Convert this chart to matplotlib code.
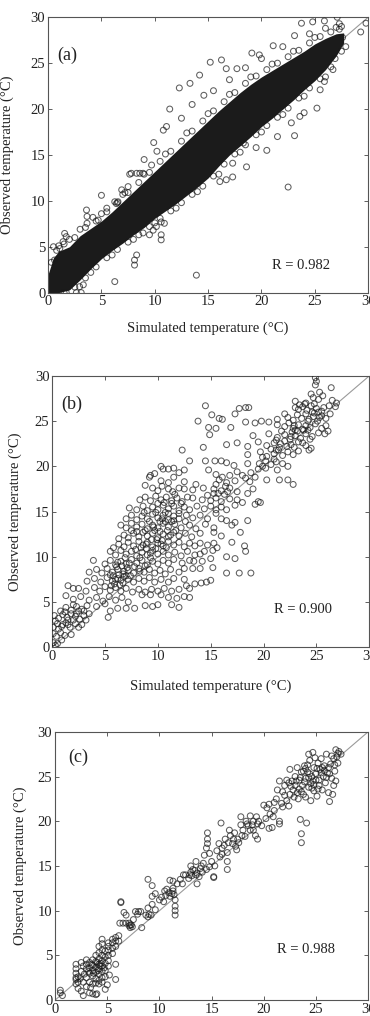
import matplotlib
matplotlib.use("Agg")
import matplotlib.pyplot as plt
import numpy as np

plt.rcParams['font.family'] = ['Liberation Serif', 'DejaVu Serif']
plt.rcParams['font.size'] = 10

TEXT = "#222222"
EDGE = (0.1, 0.1, 0.1, 0.7)

# ---------------- panel (a): dense band envelope + scattered points ----------------
a_core_x = [0, 0.5, 1, 2, 3, 4, 5, 6, 7, 8, 9, 10, 11, 12, 13, 14, 15, 16, 17, 18, 19,
            20, 21, 22, 23, 24, 25, 26, 27, 27.7]
a_core_lo = [0, 0, 0, 0.3, 1.4, 2.6, 3.7, 4.6, 5.4, 6.3, 7.1, 8.1, 8.9, 9.7, 10.6, 11.5,
             12.5, 13.8, 15.0, 16.0, 17.0, 18.1, 19.0, 20.0, 21.0, 22.1, 23.1, 24.3, 25.8, 27.2]
a_core_hi = [2.0, 3.8, 4.5, 5.0, 6.2, 7.0, 7.8, 8.8, 9.9, 11.0, 12.1, 13.2, 14.3, 15.4,
             16.5, 17.6, 18.7, 19.8, 20.8, 21.8, 22.7, 23.5, 24.2, 24.9, 25.6, 26.3, 27.1,
             27.7, 28.2, 28.3]
a_pts = [
    (23.75, 29.35), (24.8, 29.5), (25.9, 29.6), (27.1, 30.0), (27.3, 29.3), (29.3, 28.4),
    (29.8, 29.35), (23.1, 28.0), (21.1, 26.9), (19.1, 26.1), (19.8, 25.9), (16.25, 25.35),
    (15.2, 25.1), (16.7, 24.4), (17.7, 24.4), (14.2, 23.7), (13.3, 22.8), (12.3, 22.3),
    (11.4, 20.0), (11.1, 18.1), (10.8, 17.7), (10.2, 15.4), (9.9, 16.35), (9.7, 13.9),
    (8.6, 13.0), (7.8, 13.0), (6.4, 9.7), (5.0, 10.6), (4.7, 7.9), (3.6, 9.0), (3.65, 8.3),
    (3.65, 7.55), (1.55, 6.45), (1.7, 6.1), (1.4, 5.55), (0.5, 5.0), (0.6, 3.55), (1.1, 4.8),
    (22.5, 11.5), (23.1, 17.1), (20.5, 15.5), (23.6, 19.2), (25.2, 20.1), (25.9, 23.0),
    (26.7, 24.3), (26.9, 25.5), (25.5, 22.1), (18.3, 16.3), (18.6, 13.7), (17.3, 14.1),
    (17.3, 12.6), (16.7, 12.3), (16.1, 12.1), (13.9, 1.9), (6.25, 1.2), (8.1, 3.55),
    (8.3, 4.1), (8.1, 3.0), (10.6, 7.7), (10.9, 7.55), (10.6, 5.75), (10.6, 6.3), (8.9, 6.5),
    (9.5, 6.3), (9.85, 6.8), (10.15, 7.2), (2.65, 0.0), (3.1, 0.0), (2.95, 0.65), (3.3, 0.85),
    (1.7, 0.0), (7.5, 11.55), (6.9, 11.2), (7.65, 12.9), (8.3, 13.0), (8.9, 13.0),
    (6.25, 9.9), (6.55, 9.9), (14.6, 21.5), (15.5, 22.0), (17.0, 23.2), (18.5, 24.5),
    (20.0, 25.5), (22.0, 26.8), (24.5, 28.2), (26.0, 28.8), (27.5, 29.0), (21.5, 17.0),
    (22.8, 18.5), (24.0, 19.6), (19.5, 15.8), (12.5, 19.0), (13.5, 20.5), (9.0, 14.5),
    (27.9, 26.8), (27.6, 27.8), (2.0, 5.8), (4.2, 8.2), (5.5, 9.2), (7.2, 10.9)
]
# circles sitting on the fuzzy rim of the dense band
a_rim = [
    (0.3, 3.3), (0.8, 4.6), (1.5, 5.3), (2.5, 6.0), (3.5, 7.1), (4.5, 7.8), (5.5, 8.8),
    (6.5, 9.8), (7.5, 10.9), (8.5, 12.0), (9.5, 13.1), (10.5, 14.3), (11.5, 15.4), (12.5, 16.5),
    (13.5, 17.6), (14.5, 18.7), (15.5, 19.8), (16.5, 20.8), (17.5, 21.8), (18.5, 22.8),
    (19.5, 23.6), (20.5, 24.3), (21.5, 25.0), (22.5, 25.7), (23.5, 26.4), (24.5, 27.2),
    (25.5, 27.9), (26.5, 28.4), (27.3, 28.7),
    (1.0, 5.1), (3.0, 6.9), (5.0, 8.6), (7.0, 10.7), (9.0, 12.9), (11.0, 15.1), (13.0, 17.4),
    (15.0, 19.5), (17.0, 21.6), (19.0, 23.5), (21.0, 24.9), (23.0, 26.3), (25.0, 27.8), (27.0, 28.9),
    (1.5, 0.0), (2.5, 0.6), (3.5, 1.6), (4.5, 2.8), (5.5, 3.8), (6.5, 4.7), (7.5, 5.5), (8.5, 6.3),
    (9.5, 7.2), (10.5, 8.1), (11.5, 8.9), (12.5, 9.8), (13.5, 10.7), (14.5, 11.6), (15.5, 12.7),
    (16.5, 14.0), (17.5, 15.1), (18.5, 16.1), (19.5, 17.2), (20.5, 18.2), (21.5, 19.1),
    (22.5, 20.1), (23.5, 21.2), (24.5, 22.3), (25.5, 23.3), (26.5, 24.6), (27.5, 26.3),
    (4.0, 2.2), (6.0, 4.1), (8.0, 5.8), (10.0, 7.6), (12.0, 9.2), (14.0, 11.0), (16.0, 12.9),
    (18.0, 15.3), (20.0, 17.5), (22.0, 19.4), (24.0, 21.4), (26.0, 23.5)
]

# ---------------- panel (b) ----------------
b_pts = [
    (24.9, 29.8), (25.0, 29.4), (24.9, 29.0), (26.4, 28.7), (25.3, 28.2), (24.5, 28.0),
    (23.0, 27.2), (24.7, 27.6), (25.2, 27.4), (25.6, 27.8), (26.5, 27.3), (26.9, 27.0), (24.0, 27.0), (23.4, 26.8),
    (14.5, 26.7), (17.7, 26.4), (18.3, 26.5), (18.6, 26.5), (23.0, 26.5), (23.3, 26.3), (23.7, 26.6),
    (24.1, 26.2), (24.5, 26.7), (25.0, 26.4), (25.5, 26.1), (26.2, 26.7), (26.8, 26.6), (24.8, 26.9),
    (13.8, 25.0), (15.1, 25.7), (17.3, 25.8), (15.8, 25.3), (16.1, 25.2), (22.3, 25.4), (22.8, 25.1),
    (23.2, 25.7), (23.6, 25.3), (24.0, 25.8), (24.3, 25.2), (24.7, 25.5), (25.1, 25.0), (25.5, 25.6),
    (25.9, 25.3), (26.3, 25.8), (22.0, 25.8), (21.3, 25.2),
    (14.8, 24.3), (15.5, 24.2), (16.9, 24.3), (18.3, 24.9), (19.2, 24.8), (19.8, 25.0), (20.5, 24.9),
    (21.3, 24.6), (22.0, 24.4), (22.4, 24.8), (22.8, 24.2), (23.3, 24.6), (23.7, 24.1), (24.0, 24.5),
    (24.4, 24.3), (24.9, 24.7), (25.5, 24.2), (25.9, 24.5), (26.1, 23.9),
    (14.9, 23.5), (19.0, 23.4), (20.5, 23.6), (21.3, 23.2), (22.0, 23.5), (22.5, 23.0), (23.0, 23.4),
    (23.5, 23.1), (24.0, 23.6), (24.6, 23.3), (25.2, 23.7), (25.8, 23.6), (22.7, 23.8), (21.7, 23.9),
    (16.5, 22.4), (17.5, 22.6), (18.5, 22.2), (19.5, 22.7), (20.3, 22.3), (21.0, 22.6), (21.5, 22.1),
    (22.0, 22.8), (22.6, 22.4), (23.3, 22.7), (24.0, 22.3), (24.5, 22.0), (21.2, 22.9), (22.9, 22.1),
    (12.3, 21.8), (14.3, 22.1), (18.5, 21.3), (19.7, 21.6), (20.3, 21.1), (21.0, 21.4), (21.4, 21.8),
    (21.8, 21.2), (22.3, 21.6), (22.8, 21.3), (23.3, 21.7), (24.3, 21.8), (20.7, 21.9), (19.9, 21.0),
    (10.3, 20.0), (13.0, 20.6), (14.5, 20.6), (15.4, 20.6), (16.0, 20.6), (16.5, 20.4), (17.2, 20.1),
    (18.5, 20.3), (19.6, 20.3), (20.2, 20.6), (20.7, 20.2), (21.2, 20.5), (21.8, 20.3), (22.3, 20.0),
    (21.0, 20.8), (19.9, 20.0),
    (9.3, 19.0), (9.7, 19.2), (10.5, 19.7), (11.0, 19.7), (11.5, 19.8), (12.0, 19.3), (12.5, 19.6),
    (14.8, 19.6), (16.8, 19.0), (18.0, 19.0), (18.8, 19.3), (19.5, 19.7), (20.2, 19.8), (21.3, 19.6),
    (17.5, 19.4), (15.5, 19.1),
    (9.2, 18.8), (10.3, 18.4), (11.0, 18.2), (11.5, 18.8), (12.5, 18.3), (13.6, 18.0), (15.8, 18.5),
    (16.5, 18.2), (17.3, 18.4), (18.3, 18.7), (18.7, 18.3), (19.2, 18.8), (20.3, 18.5), (21.5, 18.5),
    (22.3, 18.5), (22.8, 18.0), (15.5, 18.0), (16.1, 18.8),
    (8.8, 17.9), (9.5, 17.6), (10.0, 17.3), (10.4, 17.8), (11.0, 17.5), (11.4, 17.2), (12.0, 17.6),
    (12.5, 17.5), (13.3, 17.4), (14.3, 17.6), (15.3, 17.5), (16.0, 17.3), (16.8, 17.6), (17.5, 17.2),
    (18.5, 17.0), (19.0, 17.5), (15.7, 17.0), (16.4, 17.8),
    (8.3, 16.3), (8.8, 16.6), (9.3, 16.2), (9.8, 16.7), (10.3, 16.3), (10.8, 16.6), (11.3, 16.2),
    (11.8, 16.5), (12.3, 16.1), (12.8, 16.6), (13.3, 16.5), (14.2, 16.3), (15.5, 16.5), (16.0, 16.1),
    (16.8, 16.4), (17.5, 16.3), (18.0, 16.0), (14.7, 16.8),
    (7.3, 15.4), (8.0, 15.2), (8.6, 15.6), (9.0, 15.1), (9.5, 15.5), (10.0, 15.2), (10.5, 15.7),
    (11.0, 15.3), (11.5, 15.6), (12.0, 15.1), (12.5, 15.5), (13.0, 15.2), (13.7, 15.6), (14.4, 15.3),
    (15.0, 15.6), (15.5, 15.2), (16.0, 15.5), (16.5, 15.2), (17.3, 15.7), (19.2, 15.8), (19.5, 16.1),
    (19.7, 16.0),
    (7.0, 14.2), (7.5, 14.6), (8.0, 14.1), (8.5, 14.5), (9.0, 14.2), (9.5, 14.7), (10.0, 14.3),
    (10.5, 14.6), (11.0, 14.1), (11.5, 14.5), (12.0, 14.2), (12.7, 14.6), (13.3, 14.3), (14.0, 14.6),
    (14.7, 14.2), (15.5, 14.8), (16.0, 14.2), (16.5, 14.0), (18.5, 14.0),
    (6.5, 13.5), (7.0, 13.2), (7.5, 13.7), (8.0, 13.3), (8.5, 13.6), (9.0, 13.1), (9.5, 13.5),
    (10.0, 13.2), (10.5, 13.7), (11.0, 13.3), (11.6, 13.6), (12.2, 13.2), (13.0, 13.5), (13.6, 13.1),
    (14.5, 13.6), (15.3, 13.2), (17.0, 13.5), (17.3, 13.8),
    (6.3, 12.0), (6.8, 12.4), (7.2, 12.1), (7.7, 12.6), (8.2, 12.2), (8.6, 12.7), (9.0, 12.3),
    (9.5, 12.6), (10.0, 12.1), (10.5, 12.5), (11.0, 12.2), (11.5, 12.7), (12.0, 12.3), (12.6, 12.6),
    (13.2, 12.2), (14.0, 12.6), (15.3, 12.7), (16.0, 12.3), (17.8, 12.7),
    (5.8, 11.0), (6.3, 11.4), (6.8, 11.1), (7.2, 11.6), (7.7, 11.2), (8.2, 11.7), (8.6, 11.3),
    (9.0, 11.6), (9.5, 11.1), (10.0, 11.5), (10.5, 11.2), (11.0, 11.7), (11.5, 11.3), (12.0, 11.6),
    (12.5, 11.1), (13.0, 11.5), (13.5, 11.2), (14.0, 11.5), (14.7, 11.3), (15.3, 11.5), (17.0, 11.6),
    (18.2, 11.2),
    (5.5, 10.6), (6.0, 10.2), (6.5, 10.7), (7.0, 10.3), (7.5, 10.6), (8.0, 10.1), (8.5, 10.5),
    (9.0, 10.2), (9.5, 10.7), (10.0, 10.3), (10.5, 10.6), (11.0, 10.2), (11.6, 10.5), (12.2, 10.1),
    (12.8, 10.6), (13.5, 10.2), (14.0, 10.3), (14.4, 10.6), (15.2, 10.7), (15.6, 11.0), (16.5, 10.0),
    (18.3, 10.6),
    (3.9, 9.6), (5.0, 9.2), (5.5, 9.6), (6.0, 9.1), (6.5, 9.5), (7.0, 9.2), (7.5, 9.7), (8.0, 9.3),
    (8.5, 9.6), (9.0, 9.1), (9.5, 9.5), (10.0, 9.2), (10.5, 9.6), (11.0, 9.3), (11.5, 9.7),
    (12.3, 9.3), (13.0, 9.6), (13.4, 9.5), (14.2, 9.5), (15.0, 9.8), (17.3, 9.8),
    (3.5, 8.3), (4.2, 8.6), (4.7, 8.2), (5.2, 8.7), (5.7, 8.3), (6.2, 8.6), (6.7, 8.1), (7.2, 8.5),
    (7.7, 8.2), (8.2, 8.7), (8.7, 8.3), (9.2, 8.6), (9.7, 8.2), (10.2, 8.5), (10.7, 8.1), (11.2, 8.6),
    (12.0, 8.3), (12.5, 8.7), (13.3, 8.7), (14.0, 8.7), (15.2, 8.8), (16.5, 8.2), (17.7, 8.2),
    (18.8, 8.2),
    (3.3, 7.3), (4.0, 7.6), (4.6, 7.2), (5.2, 7.7), (5.7, 7.3), (6.2, 7.6), (6.7, 7.1), (7.2, 7.5),
    (7.7, 7.2), (8.2, 7.6), (8.7, 7.3), (9.2, 7.7), (9.7, 7.2), (10.3, 7.5), (11.0, 7.2), (11.5, 7.6),
    (12.5, 7.5), (13.5, 7.0), (14.1, 7.1), (14.6, 7.2), (15.0, 7.4),
    (1.5, 6.8), (2.0, 6.5), (2.5, 6.5), (3.2, 6.2), (4.0, 6.6), (4.5, 6.2), (5.0, 6.7), (5.5, 6.3),
    (6.0, 6.6), (6.5, 6.2), (7.0, 6.5), (7.6, 6.1), (8.2, 6.4), (8.8, 6.1), (9.4, 6.4), (10.0, 6.2),
    (10.6, 6.5), (11.3, 6.2), (12.0, 6.4), (12.7, 6.8), (13.0, 6.5),
    (1.3, 5.7), (2.0, 5.3), (2.7, 5.6), (3.5, 5.2), (4.2, 5.5), (4.8, 5.1), (5.4, 5.6), (6.0, 5.2),
    (6.6, 5.5), (7.2, 5.0), (8.5, 5.8), (9.3, 5.8), (10.3, 5.8), (11.0, 5.5), (11.8, 5.4),
    (12.5, 5.6), (13.0, 5.5),
    (0.8, 4.0), (1.3, 4.4), (1.8, 4.1), (2.3, 4.5), (2.8, 4.2), (3.3, 4.6), (4.2, 4.5), (5.0, 4.8),
    (5.5, 4.0), (6.2, 4.3), (7.0, 4.3), (7.8, 4.3), (8.8, 4.6), (9.5, 4.5), (10.0, 4.7), (11.3, 4.7),
    (12.0, 4.4), (5.3, 3.3),
    (0.2, 3.5), (0.6, 3.2), (1.0, 3.6), (1.4, 3.3), (1.8, 3.7), (2.2, 3.4), (2.6, 3.1), (3.0, 3.5),
    (3.5, 3.7),
    (0.1, 2.2), (0.5, 2.6), (0.9, 2.3), (1.3, 2.7), (1.7, 2.2), (2.2, 2.6), (2.8, 2.5), (0.3, 2.9),
    (0.1, 1.5), (0.4, 1.2), (0.8, 1.6), (1.2, 1.3), (1.8, 1.4), (0.9, 0.8),
    (0.1, 0.5), (0.3, 0.2), (0.5, 0.4),
    # extra points in the darkest parts of the cloud
    (5.8, 7.9), (6.3, 8.0), (6.8, 7.8), (6.1, 8.9), (6.6, 9.0), (7.1, 8.8), (5.9, 7.0), (6.4, 6.9),
    (7.4, 7.9), (6.9, 9.9), (7.9, 10.8), (8.4, 11.0), (8.9, 10.9), (9.4, 11.9), (9.9, 11.9),
    (10.4, 11.8), (10.9, 12.9), (9.7, 12.9), (10.2, 13.9), (10.7, 13.9), (9.2, 13.9), (9.8, 14.9),
    (10.7, 14.9), (11.3, 15.9), (8.8, 12.9), (11.7, 12.9), (9.3, 9.9), (8.3, 9.9), (24.2, 25.0),
    (24.6, 26.0), (23.8, 24.0), (25.2, 26.0), (24.4, 23.0), (23.0, 24.0), (2.0, 3.0), (2.5, 4.0),
    (1.0, 2.5), (1.5, 3.0), (3.0, 4.0), (2.5, 2.2),
    (5.5, 8.0), (6.0, 7.5), (6.5, 7.4), (7.0, 7.9), (5.6, 6.8), (6.2, 9.4), (6.8, 8.4), (7.3, 9.3),
    (7.8, 8.9), (8.3, 8.4), (8.8, 9.0), (9.3, 10.4), (9.8, 10.9), (10.3, 11.4), (10.8, 11.0),
    (11.2, 12.4), (10.2, 12.8), (9.6, 13.3), (10.4, 14.2), (11.0, 14.8), (11.5, 14.0), (12.0, 14.8),
    (10.0, 15.9), (10.6, 16.0), (11.6, 16.9), (12.2, 15.9), (12.6, 13.9), (11.3, 13.9), (8.9, 11.4),
    (8.0, 12.8), (7.5, 12.9), (8.7, 14.9), (15.0, 16.2), (15.3, 17.0), (16.3, 16.9), (16.6, 17.2),
    (21.2, 21.8), (21.6, 22.5), (22.2, 22.2), (22.6, 23.3), (23.2, 23.9), (23.7, 22.6), (24.2, 24.0),
    (24.8, 25.9), (25.3, 25.4), (25.7, 26.5), (23.9, 26.9), (22.9, 24.5), (0.6, 2.0), (1.5, 2.5),
    (2.3, 3.7), (2.0, 4.7), (3.2, 3.0), (1.2, 3.9)
]

# ---------------- panel (c) ----------------
c_pts = [
    (0.5, 0.8), (0.5, 1.1), (0.7, 0.5),
    (2.0, 1.8), (2.0, 2.3), (2.0, 2.5), (2.0, 3.0), (2.0, 3.5), (2.0, 4.0), (2.2, 1.3), (2.2, 2.0),
    (2.2, 2.6), (2.5, 1.0), (2.5, 3.2), (2.5, 4.2), (2.7, 0.5), (2.7, 2.0), (2.7, 3.8),
    (3.0, 1.5), (3.0, 2.5), (3.0, 3.5), (3.0, 4.0), (3.0, 4.5), (3.3, 0.8), (3.3, 2.0), (3.3, 3.0),
    (3.3, 3.6), (3.3, 4.2), (3.6, 0.7), (3.6, 1.8), (3.6, 2.7), (3.6, 3.3), (3.6, 3.9), (3.6, 4.5),
    (3.9, 0.6), (3.9, 1.9), (3.9, 2.4), (3.9, 3.1), (3.9, 3.7), (3.9, 4.3), (3.9, 5.0),
    (4.2, 1.8), (4.2, 2.2), (4.2, 2.9), (4.2, 3.5), (4.2, 4.0), (4.2, 4.6), (4.2, 5.3), (4.2, 6.0),
    (4.5, 2.0), (4.5, 2.5), (4.5, 3.2), (4.5, 3.8), (4.5, 4.4), (4.5, 5.0), (4.5, 5.6), (4.5, 6.3),
    (4.5, 6.8), (4.8, 2.6), (4.8, 3.3), (4.8, 4.1), (4.8, 4.8), (4.8, 5.5), (5.1, 3.8), (5.1, 4.4),
    (5.1, 5.0), (5.1, 5.6), (5.1, 6.0), (5.1, 6.4), (5.5, 5.2), (5.5, 5.8), (5.5, 6.4), (5.5, 6.8),
    (5.8, 2.3), (5.8, 4.0), (5.8, 6.0), (5.8, 6.6), (5.8, 7.0), (6.1, 6.6), (6.1, 7.2), (5.2, 2.8),
    (5.0, 1.7), (4.8, 1.2), (4.0, 0.7), (3.4, 1.4), (2.8, 2.9),
    (6.2, 8.6), (6.5, 8.6), (6.8, 8.6), (6.3, 10.9), (6.3, 11.0), (6.6, 9.8), (6.8, 9.5), (7.1, 8.3),
    (7.1, 8.6), (7.3, 8.4), (7.4, 8.2), (7.2, 8.1), (7.5, 9.0), (7.7, 9.9), (8.0, 9.9), (8.2, 9.9),
    (7.9, 9.6), (8.3, 8.1), (8.7, 9.5), (8.9, 9.3), (9.0, 9.6), (9.2, 9.5), (8.9, 10.3), (8.9, 13.5),
    (9.3, 12.8), (9.3, 11.6), (9.6, 10.1), (9.3, 10.7), (9.6, 11.9),
    (10.0, 11.2), (10.2, 11.5), (10.4, 11.0), (10.5, 12.2), (10.7, 12.4), (10.9, 12.0), (11.0, 11.6),
    (11.3, 12.2), (11.3, 12.5), (11.4, 11.8), (11.5, 11.2), (11.5, 10.5), (11.5, 10.0), (11.5, 9.5),
    (11.3, 13.3), (11.0, 13.4), (11.7, 13.0), (12.0, 13.5), (12.2, 13.0), (12.3, 14.0),
    (12.5, 14.0), (12.8, 13.6), (13.0, 15.0), (13.0, 14.3), (13.2, 14.6), (13.4, 14.5), (13.5, 15.5),
    (13.6, 13.0), (13.8, 13.8), (13.9, 14.7), (14.0, 15.0), (14.2, 15.3), (14.3, 16.2), (14.5, 14.6),
    (14.8, 14.9), (14.8, 16.4), (14.6, 17.5), (14.6, 18.0), (14.6, 18.7), (14.5, 17.0), (15.0, 15.5),
    (15.2, 13.8), (15.2, 13.7), (15.3, 15.0),
    (15.5, 16.7), (15.7, 17.5), (15.8, 16.0), (15.9, 19.8), (16.0, 17.0), (16.2, 17.3), (16.3, 18.0),
    (16.5, 16.5), (16.5, 15.5), (16.5, 14.6), (16.7, 19.0), (16.8, 18.4), (17.0, 17.5), (17.2, 18.7),
    (17.3, 17.2), (17.5, 18.0), (17.6, 17.6), (17.8, 20.5), (17.8, 19.6), (18.0, 19.0), (18.2, 18.3),
    (18.3, 20.0), (18.5, 19.5), (18.7, 20.6), (18.7, 19.0), (19.0, 20.0), (19.0, 19.0), (19.2, 18.4),
    (19.3, 20.5), (19.4, 19.7), (19.4, 18.0), (19.5, 20.0), (18.4, 19.7), (17.4, 16.8), (16.0, 16.3),
    (20.0, 21.8), (20.2, 20.3), (20.3, 21.5), (20.5, 21.9), (20.5, 19.2), (20.8, 19.3), (20.9, 20.5),
    (21.0, 21.2), (21.2, 22.5), (21.3, 23.5), (21.5, 24.5), (21.5, 20.0), (21.5, 19.7), (21.7, 22.0),
    (21.8, 21.6), (21.8, 23.3), (22.0, 24.0), (22.2, 22.3), (22.4, 21.7), (22.5, 25.8), (22.5, 23.0),
    (22.7, 24.5), (22.8, 23.5), (22.9, 22.7), (23.0, 25.0), (23.0, 24.0), (23.2, 26.0), (23.2, 23.2),
    (23.3, 22.5), (23.4, 24.6), (23.5, 20.2), (23.6, 18.6), (23.6, 17.6), (23.6, 25.5), (23.7, 24.0),
    (23.8, 23.0), (23.9, 26.2), (24.0, 24.8), (24.0, 22.7), (24.1, 19.8), (24.2, 25.5), (24.3, 23.8),
    (24.3, 27.5), (24.4, 26.8), (24.5, 24.2), (24.5, 22.3), (24.6, 25.0), (24.7, 27.7), (24.8, 23.4),
    (24.8, 26.0), (25.0, 24.6), (25.0, 25.3), (25.1, 22.8),
    (25.2, 26.5), (25.3, 24.0), (25.4, 25.8), (25.5, 27.0), (25.6, 23.5), (25.7, 25.0), (25.8, 26.2),
    (25.9, 24.3), (26.0, 27.5), (26.1, 25.4), (26.2, 23.2), (26.3, 22.2), (26.4, 26.4), (26.5, 24.8),
    (26.6, 23.0), (26.7, 27.0), (26.8, 25.6), (26.9, 28.0), (27.0, 27.2), (27.1, 26.5), (27.2, 27.8),
    (27.4, 27.5), (26.9, 24.5), (26.7, 24.0),
    # extra points in the darkest parts of the cloud
    (23.1, 24.5), (23.5, 24.9), (23.9, 24.4), (24.3, 24.9), (24.7, 24.5), (25.1, 25.9), (25.5, 25.4),
    (23.4, 23.6), (23.8, 25.6), (24.2, 26.3), (24.6, 23.7), (25.2, 23.6), (22.6, 23.9), (22.2, 24.6),
    (25.8, 25.7), (26.2, 26.0), (26.5, 27.3), (24.9, 27.1), (3.7, 3.0), (4.1, 3.3), (4.4, 4.1),
    (3.5, 4.0), (4.7, 3.6), (13.1, 13.9), (13.6, 14.2), (14.1, 14.3),
    (22.0, 22.9), (22.4, 24.3), (23.6, 23.3), (24.0, 25.9), (24.4, 25.3), (24.8, 24.1), (25.3, 24.6),
    (25.6, 26.0), (26.0, 24.9), (26.3, 25.3), (26.8, 26.3), (27.1, 27.6), (21.0, 22.1), (20.6, 20.8),
    (19.8, 19.5), (18.9, 19.6), (17.9, 18.4), (17.1, 18.0), (16.6, 17.6), (13.5, 14.0), (12.9, 14.0),
    (11.2, 11.9), (10.6, 11.7), (7.2, 8.4), (4.0, 4.2), (4.3, 3.8), (3.2, 3.2), (2.4, 2.4)
]

panels = [
    dict(label="(a)", r="R = 0.982", pts=a_pts + a_rim, core=True,
         rect=[0.130, 0.712, 0.865, 0.271], lab=(0.03, 0.862), rpos=(0.70, 0.10),
         ylab_x=-0.106, xlabel=True, xlab_y=-0.105),
    dict(label="(b)", r="R = 0.900", pts=b_pts, core=False,
         rect=[0.141, 0.363, 0.857, 0.267], lab=(0.03, 0.897), rpos=(0.70, 0.14),
         ylab_x=-0.095, xlabel=True, xlab_y=-0.118),
    dict(label="(c)", r="R = 0.988", pts=c_pts, core=False,
         rect=[0.149, 0.0157, 0.846, 0.264], lab=(0.042, 0.903), rpos=(0.71, 0.187),
         ylab_x=-0.089, xlabel=False, xlab_y=0),
]

fig = plt.figure(figsize=(3.70, 10.16), dpi=100)

for p in panels:
    ax = fig.add_axes(p["rect"])
    ax.plot([0, 30], [0, 30], color="#9a9a9a", linewidth=0.8, zorder=1)
    if p["core"]:
        ax.fill_between(a_core_x, a_core_lo, a_core_hi, color="#1b1b1b", linewidth=0, zorder=2)
    xs = [q[0] for q in p["pts"]]
    ys = [q[1] for q in p["pts"]]
    ax.scatter(xs, ys, s=18, facecolors="none", edgecolors=[EDGE], linewidths=0.75, zorder=3)

    ax.set_xlim(0, 30)
    ax.set_ylim(0, 30)
    ax.set_xticks(np.arange(0, 31, 5))
    ax.set_yticks(np.arange(0, 31, 5))
    ax.tick_params(direction="in", length=3, width=0.6, top=True, right=True,
                   labelsize=10.5, colors="#444444", labelcolor=TEXT, pad=2)
    for sp in ax.spines.values():
        sp.set_color("#555555")
        sp.set_linewidth(0.8)

    ax.set_ylabel("Observed temperature (\u00b0C)", fontsize=10.5, color=TEXT)
    ax.yaxis.set_label_coords(p["ylab_x"], 0.5)
    if p["xlabel"]:
        ax.set_xlabel("Simulated temperature (\u00b0C)", fontsize=10.5, color=TEXT)
        ax.xaxis.set_label_coords(0.5, p["xlab_y"])

    ax.text(p["lab"][0], p["lab"][1], p["label"], transform=ax.transAxes,
            fontsize=13, ha="left", va="center", color=TEXT)
    ax.text(p["rpos"][0], p["rpos"][1], p["r"], transform=ax.transAxes,
            fontsize=10.5, ha="left", va="center", color=TEXT)

fig.savefig("out.png", dpi=100)
